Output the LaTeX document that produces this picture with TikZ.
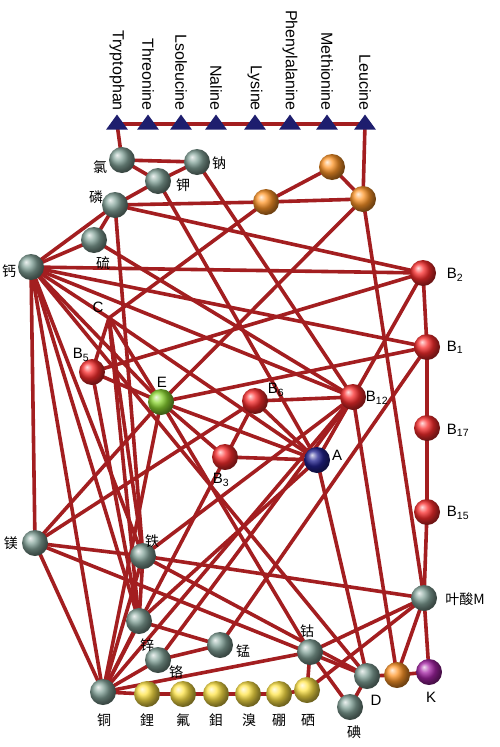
\documentclass[tikz,border=0pt]{standalone}
\usepackage{fontspec}
\setmainfont{Liberation Sans}
\newfontfamily\cjk{Noto Sans CJK SC}
\usetikzlibrary{shapes.geometric}
\pgfdeclarelayer{bg}
\pgfsetlayers{bg,main}
\definecolor{edgered}{RGB}{163,30,32}
\definecolor{gballc}{RGB}{130,162,152}
\definecolor{rballc}{RGB}{250,45,45}
\definecolor{oballc}{RGB}{255,150,40}
\definecolor{yballc}{RGB}{255,228,70}
\definecolor{eballc}{RGB}{140,215,50}
\definecolor{aballc}{RGB}{35,35,145}
\definecolor{kballc}{RGB}{165,35,165}
\definecolor{trinavy}{RGB}{30,30,110}
\begin{document}
\begin{tikzpicture}[x=1pt,y=-1pt,
  edge/.style={draw=edgered,line width=3.6pt},
  ball/.style={circle,inner sep=0pt,minimum size=26pt,shading=ball,ball color=#1},
  tri/.style={isosceles triangle,isosceles triangle apex angle=72,shape border rotate=90,
              fill=trinavy,inner sep=0pt,minimum height=15pt,minimum width=19pt},
  aa/.style={rotate=-90,anchor=east,inner sep=0pt,font=\fontsize{16}{16}\selectfont},
  zh/.style={inner sep=0pt,font=\cjk\fontsize{14}{14}\selectfont},
  lt/.style={inner sep=0pt,font=\fontsize{15}{15}\selectfont}]
\useasboundingbox (0,0) rectangle (500,747);
% amino-acid triangles and labels
\foreach \n/\x/\t in {1/117/Tryptophan,2/148/Threonine,3/181/Lsoleucine,4/216/Naline,
                      5/255/Lysine,6/290/Phenylalanine,7/327/Methionine,8/365/Leucine}{
  \node[tri] (t\n) at (\x,124) {};
  \node[aa] (lab\n) at (\x,111) {\t};
}
% gray balls
\node[ball=gballc] (cl) at (122,160) {};
\node[ball=gballc] (na) at (197,162) {};
\node[ball=gballc] (k) at (158,181) {};
\node[ball=gballc] (p) at (115,205) {};
\node[ball=gballc] (s) at (94,240) {};
\node[ball=gballc] (ca) at (31,267) {};
\node[ball=gballc] (mg) at (35,543) {};
\node[ball=gballc] (fe) at (143,556) {};
\node[ball=gballc] (fa) at (424,598) {};
\node[ball=gballc] (zn) at (139,621) {};
\node[ball=gballc] (mn) at (220,645) {};
\node[ball=gballc] (cr) at (158,660) {};
\node[ball=gballc] (co) at (310,652) {};
\node[ball=gballc] (cu) at (103,692) {};
\node[ball=gballc] (io) at (350,707) {};
\node[ball=gballc] (d) at (367,676) {};
% orange
\node[ball=oballc] (o1) at (332,167) {};
\node[ball=oballc] (o2) at (266,202) {};
\node[ball=oballc] (o3) at (363,199) {};
\node[ball=oballc] (o4) at (397,675) {};
% red
\node[ball=rballc] (b2) at (423,273) {};
\node[ball=rballc] (b1) at (427,347) {};
\node[ball=rballc] (b17) at (427,428) {};
\node[ball=rballc] (b15) at (427,512) {};
\node[ball=rballc] (b5) at (92,372) {};
\node[ball=rballc] (b6) at (255,401) {};
\node[ball=rballc] (b12) at (353,397) {};
\node[ball=rballc] (b3) at (225,457) {};
\node[ball=eballc] (e) at (161,402) {};
\node[ball=aballc] (a) at (317,460) {};
\node[ball=kballc] (kk) at (429,672) {};
% yellow
\node[ball=yballc] (li) at (147,694) {};
\node[ball=yballc] (f) at (183,694) {};
\node[ball=yballc] (mo) at (216,694) {};
\node[ball=yballc] (br) at (248,694) {};
\node[ball=yballc] (bo) at (279,694) {};
\node[ball=yballc] (se) at (307,690) {};
\coordinate (c) at (109,318);
% labels
\node[zh] (lcl) at (100,167) {氯};
\node[zh] (lna) at (219,163) {钠};
\node[zh] (lk) at (183,185) {钾};
\node[zh] (lp) at (96,197) {磷};
\node[zh] (ls) at (103,263) {硫};
\node[zh] (lca) at (9,271) {钙};
\node[lt] (lc) at (98,307) {C};
\node[lt] (lb5) at (81,355) {B\textsubscript{5}};
\node[lt] (le) at (162,382) {E};
\node[lt] (lb6) at (276,390) {B\textsubscript{6}};
\node[lt] (lb12) at (377,398) {B\textsubscript{12}};
\node[lt] (lb3) at (221,480) {B\textsubscript{3}};
\node[lt] (la) at (337,455) {A};
\node[lt] (lb2) at (455,275) {B\textsubscript{2}};
\node[lt] (lb1) at (455,347) {B\textsubscript{1}};
\node[lt] (lb17) at (458,430) {B\textsubscript{17}};
\node[lt] (lb15) at (458,513) {B\textsubscript{15}};
\node[zh] (lmg) at (11,543) {镁};
\node[zh] (lfe) at (152,541) {铁};
\node[zh] (lfa) at (465,599) {叶酸M};
\node[zh] (lzn) at (147,645) {锌};
\node[zh] (lcr) at (176,672) {铬};
\node[zh] (lmn) at (243,651) {锰};
\node[zh] (lco) at (307,631) {钴};
\node[zh] (lcu) at (104,720) {铜};
\node[zh] (lli) at (147,720) {鋰};
\node[zh] (lf) at (183,720) {氟};
\node[zh] (lmo) at (216,720) {鉬};
\node[zh] (lbr) at (249,720) {溴};
\node[zh] (lbo) at (279,720) {硼};
\node[zh] (lse) at (308,720) {硒};
\node[zh] (lio) at (354,732) {碘};
\node[lt] (ld) at (376,700) {D};
\node[lt] (lkk) at (431,697) {K};
% connectors
\begin{pgfonlayer}{bg}
\fill[white] (0,0) rectangle (500,747);
\draw[edge] (t1.center) -- (t8.center);
\draw[edge] (t1.center) -- (cl.center);
\draw[edge] (t8.center) -- (o3.center);
\foreach \u/\v in {cl/na,cl/k,k/na,k/p,p/ca,p/s,s/ca,p/o2,o2/o3,o2/o1,o1/o3,p/b2,p/fe,
  k/a,na/b12,o3/e,o3/fa,
  ca/b2,ca/b1,ca/b12,s/b12,ca/e,ca/fe,ca/zn,ca/cu,ca/mg,ca/d,
  b5/b2,b5/e,b5/zn,e/b1,e/b3,e/a,e/cu,e/co,
  b6/b12,b6/a,b6/mg,b6/cu,b3/a,
  b12/b2,b12/a,b12/fe,b12/cr,b12/o4,b1/mn,a/zn,a/d,
  b2/b1,b1/b17,b17/b15,b15/fa,fa/kk,
  fe/fa,mg/fe,mg/cu,mg/d,mg/e,fe/zn,fe/cu,fe/d,
  zn/mn,zn/cu,cu/cr,cu/co,cu/b12,
  cu/li,li/f,f/mo,mo/br,br/bo,bo/se,
  se/co,se/fa,co/fa,co/io,cr/mn,d/o4,o4/kk,d/io,o4/fa}
  \draw[edge] (\u.center) -- (\v.center);
\foreach \v in {o2,ca,a,b5,fe,zn,e}
  \draw[edge] (c) -- (\v.center);
\end{pgfonlayer}
\end{tikzpicture}
\end{document}
